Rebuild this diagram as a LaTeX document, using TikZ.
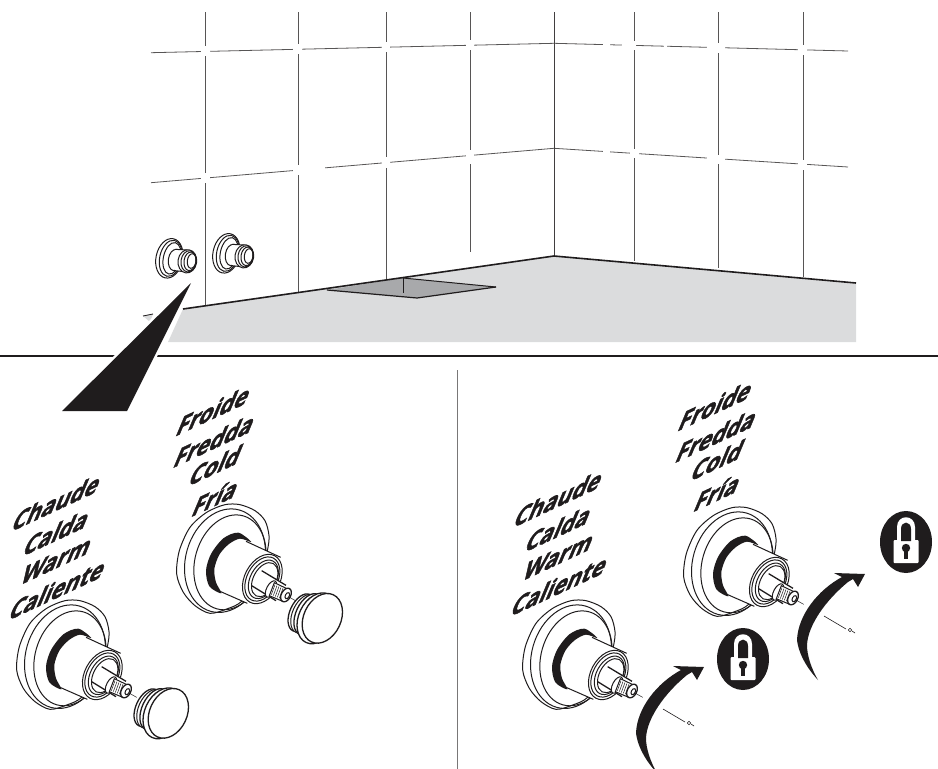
\documentclass[tikz,border=0pt]{standalone}
\usepackage{fontspec}
\setmainfont{Open Sans}
\newfontfamily\labelfont[FakeBold=2.2]{Open Sans}
\definecolor{floorgray}{HTML}{DBDCDD}
\definecolor{drainshade}{HTML}{A8A9AB}
\definecolor{inkblack}{HTML}{1F1C1D}
\tikzset{
  tileline/.style={inkblack!75,line width=0.8pt},
  tilegap/.style={white,line width=3pt},
  partline/.style={inkblack,line width=1pt},
  valvelabel/.style={font=\labelfont\fontsize{25}{25}\selectfont\bfseries,text=inkblack,cm={0.906,0.423,0.46,1.1,(0,0)},inner sep=0pt},
}
\newcommand{\valvebody}{
  \draw[partline,fill=white] plot[smooth cycle] coordinates {(50,690) (58,620) (90,550) (140,505) (195,482) (240,482) (285,500) (315,530) (327,575) (322,620) (300,700) (245,772) (200,795) (150,808) (105,785) (70,745)};
  \draw[partline] (195,650) ellipse [x radius=118,y radius=158,rotate=-16];
  \draw[partline] (210,655) ellipse [x radius=105,y radius=145,rotate=-16];
  \fill[white] (240,585) -- (362,640) -- (340,770) -- (262,778) -- (180,742) -- (160,680) -- (190,600) -- cycle;
  \fill[inkblack] plot[smooth cycle] coordinates {(274,594) (235,566) (190,583) (153,630) (138,680) (148,727) (184,748) (168,715) (163,675) (178,632) (207,600) (240,584)};
  \draw[partline] (258,592) -- (362,640) (180,742) -- (262,778);
  \draw[partline,fill=white] (307,705) ellipse [x radius=53,y radius=79,rotate=-28];
  \draw[partline] (307,705) ellipse [x radius=46,y radius=71,rotate=-28];
  \draw[partline] (310,706) ellipse [x radius=39,y radius=62,rotate=-28];
  \draw[partline,fill=white] (314,707) ellipse [x radius=34,y radius=55,rotate=-28];
  \fill[white] (308,682) -- (378,722) -- (350,772) -- (276,728) -- cycle;
  \draw[partline,line width=1.3pt] (305,680) -- (378,724) (275,725) -- (348,770);
  \draw[partline,fill=white] (333,735) ellipse [x radius=13,y radius=27,rotate=-28];
  \draw[partline,fill=white] (343,716) -- (385,736) -- (368,772) -- (328,755) -- cycle;
  \foreach \sx in {0,6,12,18,24}{
    \draw[partline,line width=0.5pt] ({345+\sx},{722+\sx*0.45}) -- ({334+\sx},{752+\sx*0.45});
  }
  \draw[partline,line width=1.3pt,fill=white] (378,753) ellipse [x radius=14,y radius=22,rotate=-28];
  \draw[partline,fill=white] (382,755) ellipse [x radius=6,y radius=10,rotate=-28];
  \draw[partline,line width=0.5pt] (385,758) -- (410,772);
}
\newcommand{\capbody}{
  \draw[partline,line width=1.3pt,fill=white] (442,803) ellipse [x radius=34,y radius=60,rotate=-25];
  \draw[partline,fill=white] (452,806) ellipse [x radius=36,y radius=62,rotate=-25];
  \draw[partline,line width=1.3pt,fill=white] (464,808) ellipse [x radius=38,y radius=66,rotate=-25];
  \draw[partline,line width=1.3pt,fill=white] (490,820) ellipse [x radius=56,y radius=80,rotate=-25];
  \draw[partline,line width=1.3pt,fill=white] (505,820) ellipse [x radius=56,y radius=78,rotate=-25];
}
\newcommand{\wallvalve}{
  \draw[partline,fill=white] (118,115) ellipse [x radius=40,y radius=60,rotate=-12];
  \draw[partline] (122,115) ellipse [x radius=33,y radius=55,rotate=-12];
  \draw[partline] (126,115) ellipse [x radius=26,y radius=48,rotate=-12];
  \draw[partline,fill=white] (135,120) ellipse [x radius=20,y radius=32,rotate=-8];
  \fill[white] (135,88) -- (172,90) -- (172,156) -- (135,152) -- cycle;
  \draw[partline] (135,88) -- (172,90) (135,152) -- (172,156);
  \draw[partline,fill=white] (172,124) ellipse [x radius=28,y radius=35,rotate=-8];
  \draw[partline] (176,124) ellipse [x radius=23,y radius=32,rotate=-8];
  \draw[partline] (180,124) ellipse [x radius=18,y radius=28,rotate=-8];
  \draw[partline] (185,123) ellipse [x radius=13,y radius=22,rotate=-8];
}
\newcommand{\turnarrow}{
  \fill[inkblack] (818,680) .. controls (804,665) and (798,650) .. (797,640) .. controls (798,615) and (818,590) .. (842,577) -- (834,573) -- (865,574) -- (858,587) -- (853,579) -- (848,582) .. controls (826,600) and (808,625) .. (807,645) .. controls (807,655) and (811,668) .. (818,680) -- cycle;
  \draw[partline,line width=0.6pt] (824,616) -- (846,629);
  \draw[partline,line width=0.6pt] (850,630) circle [radius=1.8];
  \draw[partline,line width=0.6pt] (852,631) -- (855,633);
}
\newcommand{\padlock}{
  \fill[inkblack] (906,542) ellipse [x radius=26,y radius=31];
  \fill[white] (897,540) -- (897,527) .. controls (897,514) and (915,514) .. (915,527) -- (915,540) -- cycle;
  \fill[white,rounded corners=1pt] (893.5,540) rectangle (918.5,563);
  \fill[inkblack] (901,541) -- (901,529) .. controls (901,520.5) and (911,520.5) .. (911,529) -- (911,541) -- cycle;
  \fill[inkblack] (906,548) circle [radius=4.2];
  \fill[inkblack] (903.8,548) rectangle (908.2,559);
}
\begin{document}
\begin{tikzpicture}[x=1pt,y=-1pt]
\clip (0,0) rectangle (938,769);
% tile wall
\fill[floorgray] (168,342) -- (183,309) -- (554,256) -- (856,283) -- (856,342) -- cycle;
\fill[floorgray] (143,316) -- (153,314) -- (150,322) -- cycle;
\foreach \vx/\vy in {205.5/306,298/292,386/279,470/252,634.7/260.7,718/268,803/276.7}{
  \draw[tileline] (\vx,12) -- (\vx,\vy);
}
\draw[tileline] (151,52.7) -- (554,43.3) -- (848,51);
\draw[tileline] (151,182.7) -- (554,148.3) -- (848,167);
\foreach \gx/\gy/\hx/\hy in {201/51.5/210/51.3,293/49.4/302/49.2,382/47.3/390/47.1,466/45.4/474/45.2,
  201/178.4/210/177.6,293/170.6/302/169.8,301/169.9/325/167.8,382/163/390/162.3,466/155.9/474/155.2,
  603/44.6/610/44.8,622/45.1/636/45.4,664/46.2/667/46.3,707/47.3/725/47.8,798/49.7/807/49.9,
  603/151.4/610/151.9,630/153.2/639/153.7,707/158/725/159.1,798/163.7/807/164.3,
  205.5/46/205.5/56,205.5/173/205.5/183,298/44/298/54,298/165/298/175,386/42/386/52,386/157/386/168,470/40/470/50,470/150/470/164,
  634.7/41/634.7/50,634.7/149/634.7/158,718/43/718/53,718/155/718/164,803/45/803/55,803/160/803/170}{
  \draw[tilegap] (\gx,\gy) -- (\hx,\hy);
}
\draw[inkblack!85,line width=1.5pt] (554.3,12) -- (554.3,256);
% floor and drain
\fill[drainshade] (327,290) -- (403,278) -- (496,287) -- (417,298) -- cycle;
\draw[partline] (403,278) -- (496,287);
\draw[partline] (403,278) -- (403,293);
\draw[inkblack,line width=1.2pt] (327,290) -- (417,298) -- (496,287);
\draw[inkblack,line width=1.6pt] (183,309) -- (554,256) -- (856,283);
\draw[inkblack,line width=0.8pt] (143,316) -- (153,314);
\draw[inkblack,line width=2pt] (0,356.3) -- (938,356.3);
\draw[inkblack!60,line width=1pt] (457,370) -- (457,769);
\draw[white,line width=5pt,fill=white] (191,283) -- (127,411) -- (62,411) -- cycle;
\fill[inkblack] (191,283) -- (127,411) -- (62,411) -- cycle;
% wall valves
\foreach \wx/\wy in {130/220,187/215}{
  \begin{scope}[shift={(\wx,\wy)},scale=1/3]
    \wallvalve
  \end{scope}
}
% valves
\foreach \dx/\dy in {0/0,160/-96,506/0,667/-93}{
  \begin{scope}[shift={(\dx,\dy+440)},scale=1/3]
    \valvebody
  \end{scope}
}
\foreach \dx/\dy in {0/0,154/-95}{
  \begin{scope}[shift={(\dx,\dy+440)},scale=1/3]
    \capbody
  \end{scope}
}
\turnarrow
\begin{scope}[shift={(-161,93)}]
  \turnarrow
\end{scope}
\padlock
\begin{scope}[shift={(-163,117)}]
  \padlock
\end{scope}
% labels
\foreach \n/\t/\lx/\ly in {chaudeA/Chaude/57/502,caldaA/Calda/57/532,warmA/Warm/57/560,calienteA/Caliente/58/589,
  froideA/Froide/214/410,freddaA/Fredda/215/440,coldA/Cold/216/465,friaA/Fría/216/497,
  chaudeB/Chaude/559/498,caldaB/Calda/559/528,warmB/Warm/559/556,calienteB/Caliente/560/585,
  froideB/Froide/716/405,freddaB/Fredda/717/435,coldB/Cold/718/460,friaB/Fría/718/492}{
  \node[valvelabel] (\n) at (\lx,\ly) {\t};
}
\end{tikzpicture}
\end{document}
